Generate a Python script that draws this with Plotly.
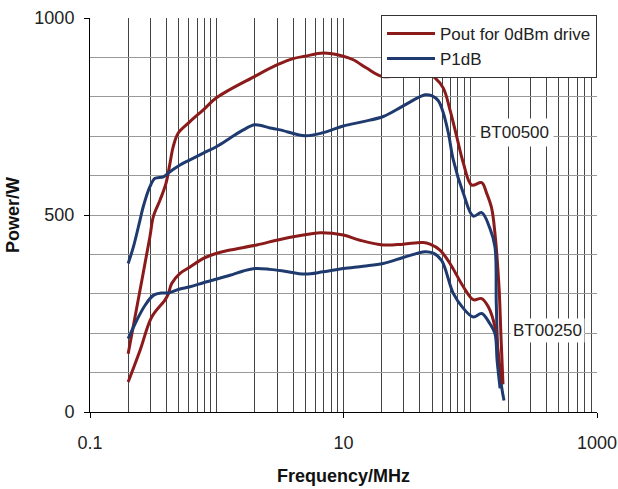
import plotly.graph_objects as go

# BT00500 - Pout for 0dBm drive
f_a = [0.200, 0.248, 0.297, 0.316, 0.357, 0.398, 0.428, 0.454, 0.497, 0.615, 0.784, 1.0,
       2.0, 3.04, 4.0, 4.97, 6.93, 9.97, 11.95, 15.2, 20.0, 29.6, 45.3, 52.7, 61.3, 69.2,
       78.2, 88.2, 102.6, 123, 134.8, 147.6, 156.7, 168.6, 174.9, 181.3]
p_a = [148, 309, 445, 496, 538, 581, 632, 674, 708, 737, 767, 798,
       852, 882, 897, 903, 911, 903, 894, 873, 852, 854, 861, 848, 822, 767,
       699, 632, 576, 582, 555, 517, 453, 318, 190, 70]

# BT00500 - P1dB
f_b = [0.200, 0.220, 0.248, 0.263, 0.297, 0.326, 0.379, 0.428, 0.513, 0.615, 0.784, 1.0,
       1.27, 1.62, 2.0, 2.63, 3.16, 4.97, 6.93, 9.97, 14.3, 20.6, 29.6, 44.0, 49.6, 56.0,
       61.3, 67.2, 73.5, 88.2, 105.7, 123, 143, 156.7, 160.5, 166.5, 177, 184.6]
p_b = [377, 419, 487, 521, 572, 593, 597, 610, 627, 640, 657, 674,
       695, 716, 729, 721, 716, 701, 709, 726, 737, 750, 777, 805, 803, 790,
       759, 708, 640, 555, 497, 506, 466, 419, 275, 131, 63, 29]

# BT00250 - Pout for 0dBm drive
f_c = [0.200, 0.248, 0.307, 0.390, 0.415, 0.441, 0.513, 0.615, 0.784, 1.0, 1.27, 2.07,
       3.16, 4.82, 6.53, 9.97, 13.5, 20.6, 29.6, 42.5, 48.1, 57.7, 69.2, 88.2, 105.7,
       123, 138.8, 156.7, 166.5, 177]
p_c = [76, 156, 241, 284, 300, 326, 352, 368, 390, 403, 411, 424,
       438, 449, 455, 449, 436, 424, 426, 430, 426, 411, 377, 318, 285,
       288, 267, 216, 148, 72]

# BT00250 - P1dB
f_d = [0.200, 0.234, 0.272, 0.316, 0.368, 0.415, 0.497, 0.615, 0.784, 0.94, 1.27, 1.62,
       2.0, 2.63, 3.35, 4.97, 6.93, 9.97, 14.3, 20.6, 29.6, 44.0, 51.0, 59.4, 73.5, 88.2,
       105.7, 123, 143, 156.7, 163, 172]
p_d = [186, 233, 271, 296, 302, 302, 311, 318, 328, 335, 347, 358,
       364, 362, 358, 350, 356, 364, 370, 377, 392, 407, 403, 385, 301, 263,
       241, 250, 224, 199, 130, 60]

x_tick_vals = [0.1, 10, 1000]
x_tick_text = ["0.1", "10", "1000"]
y_tick_vals = [0, 500, 1000]

RED = "#8b1a1a"
BLUE = "#1f3a6e"
FONT = "Arial, Liberation Sans, sans-serif"
LINE = dict(width=3, shape="spline", smoothing=1.0)

fig = go.Figure()
fig.add_trace(go.Scatter(x=f_a, y=p_a, mode="lines", name="Pout for 0dBm drive",
                         line=dict(color=RED, **LINE)))
fig.add_trace(go.Scatter(x=f_b, y=p_b, mode="lines", name="P1dB",
                         line=dict(color=BLUE, **LINE)))
fig.add_trace(go.Scatter(x=f_c, y=p_c, mode="lines", name="Pout for 0dBm drive", showlegend=False,
                         line=dict(color=RED, **LINE)))
fig.add_trace(go.Scatter(x=f_d, y=p_d, mode="lines", name="P1dB", showlegend=False,
                         line=dict(color=BLUE, **LINE)))

minor_x = [m * 10.0 ** e for e in range(-1, 3) for m in range(1, 10)]

fig.update_layout(
    width=618, height=489,
    margin=dict(l=90, r=21, t=18, b=77, autoexpand=False),
    paper_bgcolor="white", plot_bgcolor="white",
    font=dict(family=FONT, size=18, color="#222"),
    showlegend=True,
    legend=dict(x=1, xanchor="right", y=1.008, yanchor="top",
                bgcolor="white", bordercolor="#333", borderwidth=1,
                font=dict(size=17, color="#222"), tracegroupgap=0, itemwidth=48),
    xaxis=dict(type="log", range=[-1, 3],
               tickmode="array", tickvals=x_tick_vals, ticktext=x_tick_text,
               ticks="outside", ticklen=5, tickcolor="black",
               showline=True, linecolor="black", linewidth=1,
               showgrid=True, gridcolor="#444", gridwidth=1,
               minor=dict(tickmode="array", tickvals=minor_x, showgrid=True,
                          gridcolor="#444", gridwidth=1, ticks=""),
               ticklabelstandoff=9, automargin=False,
               title=dict(text="<b>Frequency/MHz</b>", font=dict(size=18, color="#111"),
                          standoff=17),
               zeroline=False),
    yaxis=dict(range=[0, 1000], tickmode="array", tickvals=y_tick_vals,
               ticks="outside", ticklen=5, tickcolor="black",
               showline=True, linecolor="black", linewidth=1,
               showgrid=True, gridcolor="#999", gridwidth=1,
               minor=dict(dtick=100, showgrid=True, gridcolor="#999", gridwidth=1, ticks=""),
               ticklabelstandoff=6, automargin=False,
               title=dict(text="<b>Power/W</b>", font=dict(size=18, color="#111"),
                          standoff=10),
               zeroline=False),
)

fig.add_annotation(x=2.353, y=709, xref="x", yref="y", text="BT00500", showarrow=False,
                   font=dict(size=17, color="#222"), bgcolor="white", borderpad=4)
fig.add_annotation(x=2.613, y=207, xref="x", yref="y", text="BT00250", showarrow=False,
                   font=dict(size=17, color="#222"), bgcolor="white", borderpad=2)

fig.write_html("out.html", config={"displayModeBar": False},
               post_script="document.body.style.margin='0';document.body.style.overflow='hidden';")
